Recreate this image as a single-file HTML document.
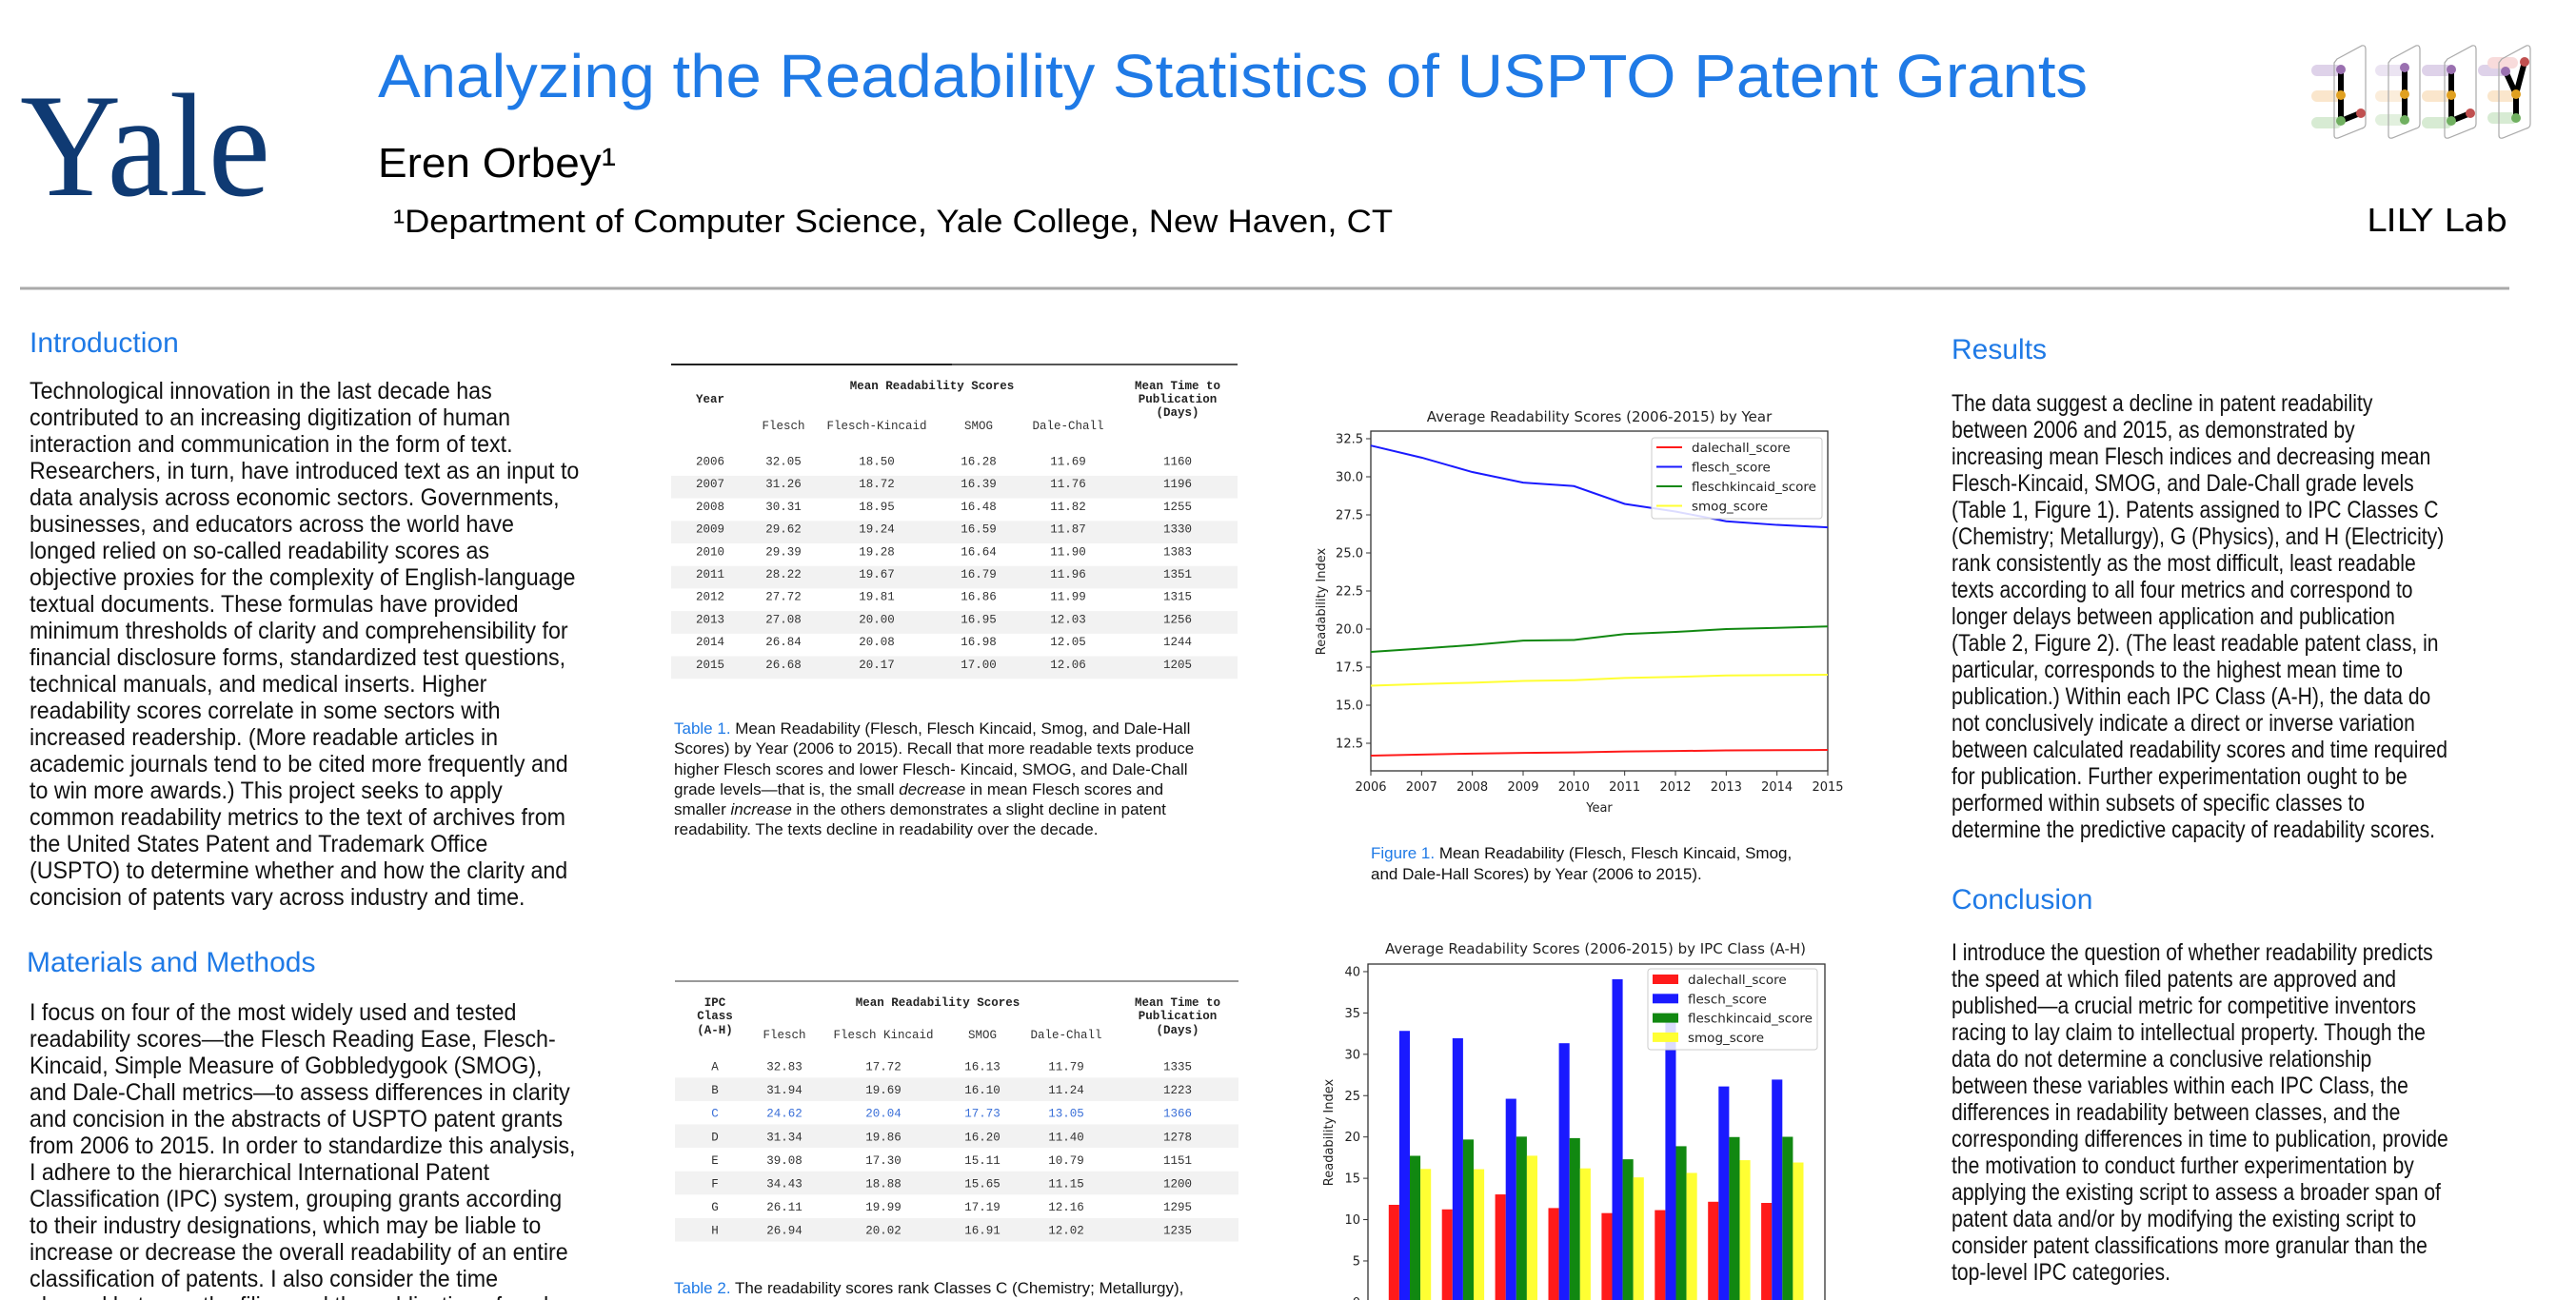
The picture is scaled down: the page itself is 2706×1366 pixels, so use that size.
<!DOCTYPE html>
<html><head><meta charset="utf-8"><title>Analyzing the Readability Statistics of USPTO Patent Grants</title>
<style>
html,body{margin:0;padding:0;background:#fff;}
svg{display:block;}
.body{font-family:"Liberation Sans",sans-serif;fill:#111;font-size:25px;}
.head{font-family:"Liberation Sans",sans-serif;fill:#1f7ae6;font-size:30px;}
.mono{font-family:"Liberation Mono",monospace;font-size:12.5px;fill:#333;}
.monob{font-family:"Liberation Mono",monospace;font-size:12.5px;fill:#222;font-weight:bold;}
.cap{font-family:"Liberation Sans",sans-serif;font-size:17px;fill:#111;}
.capb{fill:#1f7ae6;}
.tick{font-family:"DejaVu Sans",sans-serif;font-size:13px;fill:#222;}
.ctitle{font-family:"DejaVu Sans",sans-serif;font-size:15px;fill:#222;}
.leg{font-family:"DejaVu Sans",sans-serif;font-size:13.5px;fill:#222;}
</style></head>
<body>
<svg id="poster" width="2706" height="1366" viewBox="0 0 2706 1366" xmlns="http://www.w3.org/2000/svg">
<rect x="0" y="0" width="2706" height="1366" fill="#fff"/>

<!-- Header -->
<text x="21" y="205" font-family="Liberation Serif, serif" font-size="155" fill="#0f3a73" textLength="263" lengthAdjust="spacingAndGlyphs">Yale</text>
<text x="397" y="102" font-family="Liberation Sans, sans-serif" font-size="64" fill="#1f7ae6" textLength="1796" lengthAdjust="spacingAndGlyphs">Analyzing the Readability Statistics of USPTO Patent Grants</text>
<text x="397" y="186" font-family="Liberation Sans, sans-serif" font-size="44" fill="#000" textLength="250" lengthAdjust="spacingAndGlyphs">Eren Orbey¹</text>
<text x="413" y="244" font-family="Liberation Sans, sans-serif" font-size="34" fill="#000" textLength="1050" lengthAdjust="spacingAndGlyphs">¹Department of Computer Science, Yale College, New Haven, CT</text>
<text x="2486" y="243" font-family="DejaVu Sans, sans-serif" font-size="33" fill="#000" textLength="148" lengthAdjust="spacingAndGlyphs">LILY Lab</text>

<g>
  <g opacity="0.45">
    <rect x="2428" y="68" width="32" height="12" rx="6" fill="#b89cd0"/><rect x="2428" y="95" width="32" height="12" rx="6" fill="#f5c890"/><rect x="2428" y="123" width="32" height="12" rx="6" fill="#a8d4a0"/>
    <rect x="2495" y="68" width="32" height="12" rx="6" fill="#d4c4e4"/><rect x="2495" y="95" width="32" height="12" rx="6" fill="#f8d8b0"/><rect x="2495" y="120" width="32" height="12" rx="6" fill="#c0e0b8"/>
    <rect x="2544" y="68" width="32" height="12" rx="6" fill="#b89cd0"/><rect x="2544" y="95" width="32" height="12" rx="6" fill="#f5c890"/><rect x="2544" y="123" width="32" height="12" rx="6" fill="#a8d4a0"/>
    <rect x="2603" y="68" width="32" height="12" rx="6" fill="#b89cd0"/><rect x="2613" y="60" width="32" height="12" rx="6" fill="#f0b0b0"/><rect x="2613" y="95" width="32" height="12" rx="6" fill="#f5c890"/><rect x="2613" y="118" width="32" height="12" rx="6" fill="#a8d4a0"/>
  </g>
  <g fill="none" stroke="#aaa" stroke-width="1.2">
    <path d="M2455,62 L2481,48 Q2485,47 2485,52 L2485,130 Q2485,134 2481,135 L2456,145 Q2452,146 2452,142 L2452,66 Z"/>
    <path d="M2512,62 L2538,48 Q2542,47 2542,52 L2542,130 Q2542,134 2538,135 L2513,145 Q2509,146 2509,142 L2509,66 Z"/>
    <path d="M2571,62 L2597,48 Q2601,47 2601,52 L2601,130 Q2601,134 2597,135 L2572,145 Q2568,146 2568,142 L2568,66 Z"/>
    <path d="M2628,62 L2654,48 Q2658,47 2658,52 L2658,130 Q2658,134 2654,135 L2629,145 Q2625,146 2625,142 L2625,66 Z"/>
  </g>
  <g stroke="#000" stroke-width="6" fill="none" stroke-linecap="round">
    <path d="M2459,73 L2459,127 L2479,119"/>
    <path d="M2526,71 L2526,126"/>
    <path d="M2575,73 L2575,127 L2595,119"/>
    <path d="M2632,75 L2643,99 L2652,65 M2643,99 L2643,124"/>
  </g>
  <g>
    <circle cx="2459" cy="73" r="5" fill="#9a70b0"/><circle cx="2459" cy="100" r="5" fill="#e0a020"/><circle cx="2459" cy="127" r="5" fill="#70b060"/><circle cx="2480" cy="119" r="5" fill="#c05050"/>
    <circle cx="2526" cy="71" r="5" fill="#9a70b0"/><circle cx="2526" cy="99" r="5" fill="#e0a020"/><circle cx="2526" cy="126" r="5" fill="#70b060"/>
    <circle cx="2575" cy="73" r="5" fill="#9a70b0"/><circle cx="2575" cy="100" r="5" fill="#e0a020"/><circle cx="2575" cy="127" r="5" fill="#70b060"/><circle cx="2595" cy="119" r="5" fill="#c05050"/>
    <circle cx="2632" cy="75" r="5" fill="#9a70b0"/><circle cx="2652" cy="65" r="5" fill="#c05050"/><circle cx="2643" cy="99" r="5" fill="#e0a020"/><circle cx="2643" cy="124" r="5" fill="#70b060"/>
  </g>
</g>

<line x1="21" y1="303" x2="2636" y2="303" stroke="#aaa" stroke-width="3"/>

<!-- Introduction -->
<text class="head" x="31" y="370">Introduction</text>
<g class="body" transform="translate(31,0) scale(0.93,1)">
<text x="0" y="419">Technological innovation in the last decade has</text>
<text x="0" y="447">contributed to an increasing digitization of human</text>
<text x="0" y="475">interaction and communication in the form of text.</text>
<text x="0" y="503">Researchers, in turn, have introduced text as an input to</text>
<text x="0" y="531">data analysis across economic sectors. Governments,</text>
<text x="0" y="559">businesses, and educators across the world have</text>
<text x="0" y="587">longed relied on so-called readability scores as</text>
<text x="0" y="615">objective proxies for the complexity of English-language</text>
<text x="0" y="643">textual documents. These formulas have provided</text>
<text x="0" y="671">minimum thresholds of clarity and comprehensibility for</text>
<text x="0" y="699">financial disclosure forms, standardized test questions,</text>
<text x="0" y="727">technical manuals, and medical inserts. Higher</text>
<text x="0" y="755">readability scores correlate in some sectors with</text>
<text x="0" y="783">increased readership. (More readable articles in</text>
<text x="0" y="811">academic journals tend to be cited more frequently and</text>
<text x="0" y="839">to win more awards.) This project seeks to apply</text>
<text x="0" y="867">common readability metrics to the text of archives from</text>
<text x="0" y="895">the United States Patent and Trademark Office</text>
<text x="0" y="923">(USPTO) to determine whether and how the clarity and</text>
<text x="0" y="951">concision of patents vary across industry and time.</text>
</g>

<text class="head" x="28" y="1021">Materials and Methods</text>
<g class="body" transform="translate(31,0) scale(0.93,1)">
<text x="0" y="1072">I focus on four of the most widely used and tested</text>
<text x="0" y="1100">readability scores—the Flesch Reading Ease, Flesch-</text>
<text x="0" y="1128">Kincaid, Simple Measure of Gobbledygook (SMOG),</text>
<text x="0" y="1156">and Dale-Chall metrics—to assess differences in clarity</text>
<text x="0" y="1184">and concision in the abstracts of USPTO patent grants</text>
<text x="0" y="1212">from 2006 to 2015. In order to standardize this analysis,</text>
<text x="0" y="1240">I adhere to the hierarchical International Patent</text>
<text x="0" y="1268">Classification (IPC) system, grouping grants according</text>
<text x="0" y="1296">to their industry designations, which may be liable to</text>
<text x="0" y="1324">increase or decrease the overall readability of an entire</text>
<text x="0" y="1352">classification of patents. I also consider the time</text>
<text x="0" y="1380">elapsed between the filing and the publication of each</text>
</g>

<!-- Table 1 -->
<g>
<line x1="705" y1="383" x2="1000" y2="383" stroke="#222" stroke-width="2"/>
<line x1="1000" y1="383" x2="1300" y2="383" stroke="#555" stroke-width="2"/>
<g fill="#f2f2f2">
<rect x="705" y="499.9" width="595" height="23.7"/><rect x="705" y="547.3" width="595" height="23.7"/><rect x="705" y="594.7" width="595" height="23.7"/><rect x="705" y="642.1" width="595" height="23.7"/><rect x="705" y="689.5" width="595" height="23.7"/>
</g>
<g text-anchor="middle" class="monob">
<text class="monob" x="979" y="409">Mean Readability Scores</text>
<text class="monob" x="746" y="423">Year</text>
<text class="monob" x="1237" y="409">Mean Time to</text>
<text class="monob" x="1237" y="423">Publication</text>
<text class="monob" x="1237" y="437">(Days)</text>
</g>
<g text-anchor="middle">
<text class="mono" x="823" y="451">Flesch</text><text class="mono" x="921" y="451">Flesch-Kincaid</text><text class="mono" x="1028" y="451">SMOG</text><text class="mono" x="1122" y="451">Dale-Chall</text>
</g>
<g text-anchor="middle" class="mono">
<text class="mono" y="488.5"><tspan x="746">2006</tspan><tspan x="823">32.05</tspan><tspan x="921">18.50</tspan><tspan x="1028">16.28</tspan><tspan x="1122">11.69</tspan><tspan x="1237">1160</tspan></text>
<text class="mono" y="512.2"><tspan x="746">2007</tspan><tspan x="823">31.26</tspan><tspan x="921">18.72</tspan><tspan x="1028">16.39</tspan><tspan x="1122">11.76</tspan><tspan x="1237">1196</tspan></text>
<text class="mono" y="535.9"><tspan x="746">2008</tspan><tspan x="823">30.31</tspan><tspan x="921">18.95</tspan><tspan x="1028">16.48</tspan><tspan x="1122">11.82</tspan><tspan x="1237">1255</tspan></text>
<text class="mono" y="559.6"><tspan x="746">2009</tspan><tspan x="823">29.62</tspan><tspan x="921">19.24</tspan><tspan x="1028">16.59</tspan><tspan x="1122">11.87</tspan><tspan x="1237">1330</tspan></text>
<text class="mono" y="583.3"><tspan x="746">2010</tspan><tspan x="823">29.39</tspan><tspan x="921">19.28</tspan><tspan x="1028">16.64</tspan><tspan x="1122">11.90</tspan><tspan x="1237">1383</tspan></text>
<text class="mono" y="607.0"><tspan x="746">2011</tspan><tspan x="823">28.22</tspan><tspan x="921">19.67</tspan><tspan x="1028">16.79</tspan><tspan x="1122">11.96</tspan><tspan x="1237">1351</tspan></text>
<text class="mono" y="630.7"><tspan x="746">2012</tspan><tspan x="823">27.72</tspan><tspan x="921">19.81</tspan><tspan x="1028">16.86</tspan><tspan x="1122">11.99</tspan><tspan x="1237">1315</tspan></text>
<text class="mono" y="654.4"><tspan x="746">2013</tspan><tspan x="823">27.08</tspan><tspan x="921">20.00</tspan><tspan x="1028">16.95</tspan><tspan x="1122">12.03</tspan><tspan x="1237">1256</tspan></text>
<text class="mono" y="678.1"><tspan x="746">2014</tspan><tspan x="823">26.84</tspan><tspan x="921">20.08</tspan><tspan x="1028">16.98</tspan><tspan x="1122">12.05</tspan><tspan x="1237">1244</tspan></text>
<text class="mono" y="701.8"><tspan x="746">2015</tspan><tspan x="823">26.68</tspan><tspan x="921">20.17</tspan><tspan x="1028">17.00</tspan><tspan x="1122">12.06</tspan><tspan x="1237">1205</tspan></text>
</g>
</g>
<g class="cap">
<text x="708" y="771"><tspan class="capb">Table 1.</tspan> Mean Readability (Flesch, Flesch Kincaid, Smog, and Dale-Hall</text>
<text x="708" y="792">Scores) by Year (2006 to 2015). Recall that more readable texts produce</text>
<text x="708" y="814">higher Flesch scores and lower Flesch- Kincaid, SMOG, and Dale-Chall</text>
<text x="708" y="835">grade levels—that is, the small <tspan font-style="italic">decrease</tspan> in mean Flesch scores and</text>
<text x="708" y="856">smaller <tspan font-style="italic">increase</tspan> in the others demonstrates a slight decline in patent</text>
<text x="708" y="877">readability. The texts decline in readability over the decade.</text>
</g>

<!-- Table 2 -->
<g>
<line x1="709" y1="1031" x2="1301" y2="1031" stroke="#999" stroke-width="2"/>
<g fill="#f2f2f2">
<rect x="709" y="1132.3" width="592" height="24.6"/><rect x="709" y="1181.5" width="592" height="24.6"/><rect x="709" y="1230.7" width="592" height="24.6"/><rect x="709" y="1279.9" width="592" height="24.6"/>
</g>
<g text-anchor="middle">
<text class="monob" x="751" y="1057">IPC</text><text class="monob" x="751" y="1071">Class</text><text class="monob" x="751" y="1086">(A-H)</text>
<text class="monob" x="985" y="1057">Mean Readability Scores</text>
<text class="monob" x="1237" y="1057">Mean Time to</text><text class="monob" x="1237" y="1071">Publication</text><text class="monob" x="1237" y="1086">(Days)</text>
<text class="mono" x="824" y="1091">Flesch</text><text class="mono" x="928" y="1091">Flesch Kincaid</text><text class="mono" x="1032" y="1091">SMOG</text><text class="mono" x="1120" y="1091">Dale-Chall</text>
<text class="mono" y="1124.5"><tspan x="751">A</tspan><tspan x="824">32.83</tspan><tspan x="928">17.72</tspan><tspan x="1032">16.13</tspan><tspan x="1120">11.79</tspan><tspan x="1237">1335</tspan></text>
<text class="mono" y="1149.1"><tspan x="751">B</tspan><tspan x="824">31.94</tspan><tspan x="928">19.69</tspan><tspan x="1032">16.10</tspan><tspan x="1120">11.24</tspan><tspan x="1237">1223</tspan></text>
<text class="mono" y="1173.7" fill="#3a6fd8" style="fill:#3a6fd8"><tspan x="751">C</tspan><tspan x="824">24.62</tspan><tspan x="928">20.04</tspan><tspan x="1032">17.73</tspan><tspan x="1120">13.05</tspan><tspan x="1237">1366</tspan></text>
<text class="mono" y="1198.3"><tspan x="751">D</tspan><tspan x="824">31.34</tspan><tspan x="928">19.86</tspan><tspan x="1032">16.20</tspan><tspan x="1120">11.40</tspan><tspan x="1237">1278</tspan></text>
<text class="mono" y="1222.9"><tspan x="751">E</tspan><tspan x="824">39.08</tspan><tspan x="928">17.30</tspan><tspan x="1032">15.11</tspan><tspan x="1120">10.79</tspan><tspan x="1237">1151</tspan></text>
<text class="mono" y="1247.5"><tspan x="751">F</tspan><tspan x="824">34.43</tspan><tspan x="928">18.88</tspan><tspan x="1032">15.65</tspan><tspan x="1120">11.15</tspan><tspan x="1237">1200</tspan></text>
<text class="mono" y="1272.1"><tspan x="751">G</tspan><tspan x="824">26.11</tspan><tspan x="928">19.99</tspan><tspan x="1032">17.19</tspan><tspan x="1120">12.16</tspan><tspan x="1237">1295</tspan></text>
<text class="mono" y="1296.7"><tspan x="751">H</tspan><tspan x="824">26.94</tspan><tspan x="928">20.02</tspan><tspan x="1032">16.91</tspan><tspan x="1120">12.02</tspan><tspan x="1237">1235</tspan></text>
</g>
</g>
<text class="cap" x="708" y="1359"><tspan class="capb">Table 2.</tspan> The readability scores rank Classes C (Chemistry; Metallurgy),</text>

<!-- Figure 1 -->
<g id="fig1">
<text class="ctitle" x="1680" y="443" text-anchor="middle">Average Readability Scores (2006-2015) by Year</text>
<text class="tick" transform="translate(1392,632) rotate(-90)" text-anchor="middle">Readability Index</text>
<text class="tick" x="1680" y="853" text-anchor="middle">Year</text>
</g>
<g class="cap">
<text x="1440" y="902"><tspan class="capb">Figure 1.</tspan> Mean Readability (Flesch, Flesch Kincaid, Smog,</text>
<text x="1440" y="924">and Dale-Hall Scores) by Year (2006 to 2015).</text>
</g>

<!-- Figure 2 -->
<g id="fig2">
<text class="ctitle" x="1676" y="1002" text-anchor="middle">Average Readability Scores (2006-2015) by IPC Class (A-H)</text>
<text class="tick" transform="translate(1400,1190) rotate(-90)" text-anchor="middle">Readability Index</text>
</g>

<!-- Results / Conclusion -->
<text class="head" x="2050" y="377">Results</text>
<g class="body" transform="translate(2050,0) scale(0.845,1)">
<text x="0" y="432">The data suggest a decline in patent readability</text>
<text x="0" y="460">between 2006 and 2015, as demonstrated by</text>
<text x="0" y="488">increasing mean Flesch indices and decreasing mean</text>
<text x="0" y="516">Flesch-Kincaid, SMOG, and Dale-Chall grade levels</text>
<text x="0" y="544">(Table 1, Figure 1). Patents assigned to IPC Classes C</text>
<text x="0" y="572">(Chemistry; Metallurgy), G (Physics), and H (Electricity)</text>
<text x="0" y="600">rank consistently as the most difficult, least readable</text>
<text x="0" y="628">texts according to all four metrics and correspond to</text>
<text x="0" y="656">longer delays between application and publication</text>
<text x="0" y="684">(Table 2, Figure 2). (The least readable patent class, in</text>
<text x="0" y="712">particular, corresponds to the highest mean time to</text>
<text x="0" y="740">publication.) Within each IPC Class (A-H), the data do</text>
<text x="0" y="768">not conclusively indicate a direct or inverse variation</text>
<text x="0" y="796">between calculated readability scores and time required</text>
<text x="0" y="824">for publication. Further experimentation ought to be</text>
<text x="0" y="852">performed within subsets of specific classes to</text>
<text x="0" y="880">determine the predictive capacity of readability scores.</text>
</g>
<text class="head" x="2050" y="955">Conclusion</text>
<g class="body" transform="translate(2050,0) scale(0.845,1)">
<text x="0" y="1009">I introduce the question of whether readability predicts</text>
<text x="0" y="1037">the speed at which filed patents are approved and</text>
<text x="0" y="1065">published—a crucial metric for competitive inventors</text>
<text x="0" y="1093">racing to lay claim to intellectual property. Though the</text>
<text x="0" y="1121">data do not determine a conclusive relationship</text>
<text x="0" y="1149">between these variables within each IPC Class, the</text>
<text x="0" y="1177">differences in readability between classes, and the</text>
<text x="0" y="1205">corresponding differences in time to publication, provide</text>
<text x="0" y="1233">the motivation to conduct further experimentation by</text>
<text x="0" y="1261">applying the existing script to assess a broader span of</text>
<text x="0" y="1289">patent data and/or by modifying the existing script to</text>
<text x="0" y="1317">consider patent classifications more granular than the</text>
<text x="0" y="1345">top-level IPC categories.</text>
</g>
</svg>

<script>
// ---- Figure 1 data ----
const years = [2006, 2007, 2008, 2009, 2010, 2011, 2012, 2013, 2014, 2015];
const daleChallByYear = [11.69, 11.76, 11.82, 11.87, 11.90, 11.96, 11.99, 12.03, 12.05, 12.06];
const fleschByYear = [32.05, 31.26, 30.31, 29.62, 29.39, 28.22, 27.72, 27.08, 26.84, 26.68];
const fleschKincaidByYear = [18.50, 18.72, 18.95, 19.24, 19.28, 19.67, 19.81, 20.00, 20.08, 20.17];
const smogByYear = [16.28, 16.39, 16.48, 16.59, 16.64, 16.79, 16.86, 16.95, 16.98, 17.00];
const fig1YTicks = [12.5, 15.0, 17.5, 20.0, 22.5, 25.0, 27.5, 30.0, 32.5];
const seriesNames = ["dalechall_score", "flesch_score", "fleschkincaid_score", "smog_score"];

// ---- Figure 2 data ----
const ipcClasses = ["A", "B", "C", "D", "E", "F", "G", "H"];
const daleChallByClass = [11.79, 11.24, 13.05, 11.40, 10.79, 11.15, 12.16, 12.02];
const fleschByClass = [32.83, 31.94, 24.62, 31.34, 39.08, 34.43, 26.11, 26.94];
const fleschKincaidByClass = [17.72, 19.69, 20.04, 19.86, 17.30, 18.88, 19.99, 20.02];
const smogByClass = [16.13, 16.10, 17.73, 16.20, 15.11, 15.65, 17.19, 16.91];
const fig2YTicks = [0, 5, 10, 15, 20, 25, 30, 35, 40];

const NS = "http://www.w3.org/2000/svg";
function mk(tag, attrs, parent) {
  const e = document.createElementNS(NS, tag);
  for (const k in attrs) e.setAttribute(k, attrs[k]);
  parent.appendChild(e);
  return e;
}
const colors = ["#ff1a1a", "#1a1aff", "#118811", "#ffff33"];

// ===== Figure 1 =====
(function () {
  const g = document.getElementById("fig1");
  const L = 1440, R = 1920, T = 453, B = 810;
  const x = v => L + (v - years[0]) / (years[years.length - 1] - years[0]) * (R - L);
  const y = v => 781 - (v - 12.5) * 16;
  const frame = mk("rect", {x: L, y: T, width: R - L, height: B - T, fill: "none", stroke: "#333", "stroke-width": 1.3}, g);
  
  
  fig1YTicks.forEach(t => {
    const tk = mk("line", {x1: L - 5, x2: L, y1: y(t), y2: y(t), stroke: "#333"}, g);
    
    
    const lb = mk("text", {x: L - 8, y: y(t) + 4.5, "text-anchor": "end", class: "tick"}, g);
    lb.textContent = t.toFixed(1);
    
    
  });
  years.forEach(yr => {
    const tk = mk("line", {x1: x(yr), x2: x(yr), y1: B, y2: B + 5, stroke: "#333"}, g);
    
    
    const lb = mk("text", {x: x(yr), y: B + 21, "text-anchor": "middle", class: "tick"}, g);
    lb.textContent = String(yr);
    
    
  });
  const series = [daleChallByYear, fleschByYear, fleschKincaidByYear, smogByYear];
  series.forEach((s, i) => {
    const pts = s.map((v, j) => x(years[j]) + "," + y(v)).join(" ");
    const pl = mk("polyline", {points: pts, fill: "none", stroke: colors[i], "stroke-width": 2}, g);
    
    
  });
  const lg = mk("rect", {x: 1735, y: 460, width: 179, height: 85, rx: 3, fill: "#fff", "fill-opacity": 0.85, stroke: "#ccc"}, g);
  
  
  seriesNames.forEach((n, i) => {
    const yy = 470 + i * 20.5;
    const ln = mk("line", {x1: 1740, x2: 1767, y1: yy, y2: yy, stroke: colors[i], "stroke-width": 2}, g);
    
    
    const tx = mk("text", {x: 1777, y: yy + 5, class: "leg"}, g);
    tx.textContent = n;
    
    
  });
})();

// ===== Figure 2 =====
(function () {
  const g = document.getElementById("fig2");
  const L = 1437, R = 1917, T = 1013, B = 1368;
  const y = v => 1368.4 - v * 8.686;
  const step = 55.9, bw = 11.1, c0 = 1481;
  const frame = mk("rect", {x: L, y: T, width: R - L, height: B - T + 10, fill: "none", stroke: "#333", "stroke-width": 1.3}, g);
  
  
  fig2YTicks.forEach(t => {
    const tk = mk("line", {x1: L - 5, x2: L, y1: y(t), y2: y(t), stroke: "#333"}, g);
    
    
    const lb = mk("text", {x: L - 8, y: y(t) + 4.5, "text-anchor": "end", class: "tick"}, g);
    lb.textContent = String(t);
    
    
  });
  const series = [daleChallByClass, fleschByClass, fleschKincaidByClass, smogByClass];
  ipcClasses.forEach((c, j) => {
    series.forEach((s, i) => {
      const bx = c0 + j * step - 2 * bw + i * bw;
      const r = mk("rect", {x: bx, y: y(s[j]), width: bw, height: y(0) - y(s[j]), fill: colors[i]}, g);
      
      
    });
  });
  const lg = mk("rect", {x: 1731, y: 1018, width: 178, height: 85, rx: 3, fill: "#fff", "fill-opacity": 0.85, stroke: "#ccc"}, g);
  
  
  seriesNames.forEach((n, i) => {
    const yy = 1029 + i * 20.3;
    const sw = mk("rect", {x: 1736, y: yy - 5, width: 27, height: 10, fill: colors[i]}, g);
    
    
    const tx = mk("text", {x: 1773, y: yy + 5, class: "leg"}, g);
    tx.textContent = n;
    
    
  });
})();
</script>
</body></html>
